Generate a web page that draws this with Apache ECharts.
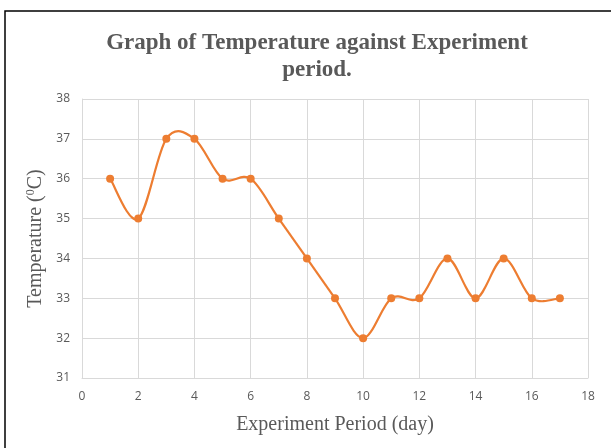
<!DOCTYPE html>
<html>
<head>
<meta charset="utf-8">
<script src="https://cdn.jsdelivr.net/npm/echarts@6/dist/echarts.min.js"></script>
<style>
  html, body { margin: 0; padding: 0; background: #fff; }
  #chart { width: 611px; height: 448px; }
</style>
</head>
<body>
<div id="chart"></div>
<script>
const days = [1, 2, 3, 4, 5, 6, 7, 8, 9, 10, 11, 12, 13, 14, 15, 16, 17];
const temperature = [36, 35, 37, 37, 36, 36, 35, 34, 33, 32, 33, 33, 34, 33, 34, 33, 33];
const xTicks = { min: 0, max: 18, step: 2 };
const yTicks = { min: 31, max: 38, step: 1 };

const points = days.map((d, i) => [d, temperature[i]]);
const orange = "#ED7D31";

// smooth segment i -> i+1 like the spreadsheet does (catmull-rom style)
function renderSegment(params, api) {
  const i = params.dataIndex;
  const n = points.length;
  if (i >= n - 1) return null;
  const p = j => api.coord(points[Math.max(0, Math.min(n - 1, j))]);
  const p0 = p(i - 1), p1 = p(i), p2 = p(i + 1), p3 = p(i + 2);
  return {
    type: "bezierCurve",
    shape: {
      x1: p1[0], y1: p1[1],
      x2: p2[0], y2: p2[1],
      cpx1: p1[0] + (p2[0] - p0[0]) / 6,
      cpy1: p1[1] + (p2[1] - p0[1]) / 6,
      cpx2: p2[0] - (p3[0] - p1[0]) / 6,
      cpy2: p2[1] - (p3[1] - p1[1]) / 6
    },
    style: { fill: "none", stroke: orange, lineWidth: 2.2 }
  };
}

const myChart = echarts.init(document.getElementById("chart"));
myChart.setOption({
  animation: false,
  title: {
    text: "Graph of Temperature against Experiment\nperiod.",
    left: 312,
    top: 25,
    textAlign: "center",
    textStyle: {
      fontFamily: "Liberation Serif",
      fontWeight: "bold",
      fontSize: 23,
      color: "#595959",
      lineHeight: 27
    }
  },
  graphic: [
    {
      type: "rect",
      shape: { x: 5, y: 11, width: 700, height: 600 },
      style: { fill: "none", stroke: "#000", lineWidth: 1.5 }
    }
  ],
  grid: { left: 82, right: 23, top: 99, bottom: 70 },
  xAxis: {
    type: "value",
    min: xTicks.min,
    max: xTicks.max,
    interval: xTicks.step,
    name: "Experiment Period (day)",
    nameLocation: "middle",
    nameGap: 37,
    nameTextStyle: { fontFamily: "Liberation Serif", fontSize: 20, color: "#595959" },
    axisLine: { show: true, lineStyle: { color: "#d9d9d9" } },
    axisTick: { show: false },
    axisLabel: { margin: 13, fontFamily: "Open Sans", fontSize: 12, color: "#595959" },
    splitLine: { show: true, lineStyle: { color: "#d9d9d9" } }
  },
  yAxis: {
    type: "value",
    min: yTicks.min,
    max: yTicks.max,
    interval: yTicks.step,
    name: "Temperature ({sup|0}C)",
    nameLocation: "middle",
    nameGap: 30,
    nameTextStyle: {
      fontFamily: "Liberation Serif",
      fontSize: 20,
      color: "#595959",
      rich: {
        sup: { fontFamily: "Liberation Serif", fontSize: 12, color: "#595959", verticalAlign: "top", padding: [0, 0, 9, 0] }
      }
    },
    axisLine: { show: true, lineStyle: { color: "#d9d9d9" } },
    axisTick: { show: false },
    axisLabel: { margin: 12, fontFamily: "Open Sans", fontSize: 12, color: "#595959" },
    splitLine: { show: true, lineStyle: { color: "#d9d9d9" } }
  },
  series: [
    {
      type: "custom",
      renderItem: renderSegment,
      data: points,
      encode: { x: 0, y: 1 },
      z: 2
    },
    {
      type: "scatter",
      data: points,
      symbol: "circle",
      symbolSize: 8,
      itemStyle: { color: orange, opacity: 1 },
      z: 3
    }
  ]
});
</script>
</body>
</html>
